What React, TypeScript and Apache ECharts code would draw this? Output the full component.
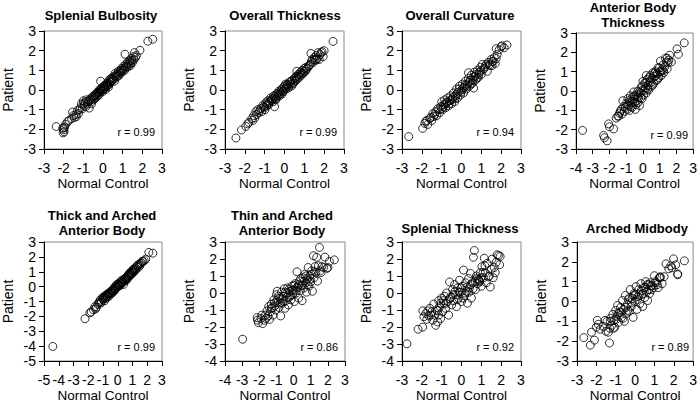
import React, { useEffect, useRef } from "react";
import * as echarts from "echarts";

const FONT = "'Liberation Sans', Arial, Helvetica, sans-serif";

// ---- Panel titles and correlation labels ----
const titles: string[] = [
  "Splenial Bulbosity",
  "Overall Thickness",
  "Overall Curvature",
  "Anterior Body\nThickness",
  "Thick and Arched\nAnterior Body",
  "Thin and Arched\nAnterior Body",
  "Splenial Thickness",
  "Arched Midbody",
];
const rLabels = ["r = 0.99", "r = 0.99", "r = 0.94", "r = 0.99", "r = 0.99", "r = 0.86", "r = 0.92", "r = 0.89"];
const xMins = [-3, -3, -3, -4, -5, -4, -3, -3];
const xMaxs = [3, 3, 3, 3, 3, 3, 3, 3];
const yMins = [-3, -3, -3, -3, -5, -4, -4, -3];
const yMaxs = [3, 3, 3, 3, 3, 3, 3, 3];

// ---- Data (Normal Control x, Patient y) ----
const splenialBulbosity = [
  [-2.38,-1.86],[-2.05,-1.95],[-2.0,-2.02],[-1.98,-2.12],[-2.03,-2.18],[-1.95,-1.88],[-2.0,-1.92],
  [-1.72,-1.55],[-1.6,-1.45],[-1.55,-1.12],[-1.5,-1.3],[-1.45,-1.4],[-1.38,-1.25],[-1.3,-1.05],[-1.25,-1.2],
  [-1.15,-0.9],[-1.1,-0.7],[-1.05,-0.95],[-1.0,-0.55],[-0.95,-0.8],[-0.9,-0.62],[-0.85,-0.5],[-0.8,-0.72],
  [-0.7,-0.92],[-0.72,-0.55],[-0.65,-0.45],[-0.6,-0.6],[-0.55,-0.35],[-0.5,-0.5],[-0.45,-0.3],[-0.42,-0.45],
  [-0.38,-0.2],[-0.35,-0.38],[-0.3,-0.15],[-0.28,-0.3],[-0.25,-0.1],[-0.2,-0.25],[-0.18,0.02],[-0.15,-0.12],
  [-0.12,0.45],[-0.1,0.05],[-0.08,-0.05],[-0.05,0.1],[0.0,0.0],[0.02,0.15],[0.05,0.05],[0.08,0.2],[0.1,0.1],
  [0.15,0.3],[0.18,0.18],[0.22,0.35],[0.25,0.25],[0.3,0.5],[0.35,0.4],[0.38,0.55],[0.42,0.6],[0.45,0.45],
  [0.5,0.65],[0.55,0.55],[0.6,0.7],[0.62,0.85],[0.68,0.65],[0.72,0.8],[0.78,0.95],[0.82,0.75],[0.88,1.0],
  [0.9,0.85],[0.95,1.1],[1.0,0.95],[1.05,1.2],[1.1,1.0],[1.12,1.82],[1.15,1.3],[1.2,1.15],[1.25,1.4],
  [1.3,1.2],[1.35,1.5],[1.4,1.35],[1.45,1.6],[1.5,1.4],[1.55,1.7],[1.6,1.9],[1.65,1.65],[1.7,1.75],
  [1.88,2.02],[2.28,2.48],[2.53,2.58],
  [-1.9,-1.75],[-1.8,-1.6],[-1.35,-1.35],[-1.2,-1.0],[-0.98,-0.7],[-0.88,-0.85],[-0.78,-0.6],[-0.62,-0.5],
  [-0.58,-0.7],[-0.48,-0.38],[-0.4,-0.3],[-0.32,-0.22],[-0.22,-0.12],[-0.14,-0.02],[-0.02,-0.08],[0.04,0.22],
  [0.12,0.02],[0.2,0.25],[0.28,0.15],[0.33,0.3],[0.4,0.42],[0.48,0.55],[0.58,0.45],[0.65,0.75],[0.75,0.7],
  [0.85,0.9],[0.92,0.95],[1.02,1.05],[1.08,1.1],[1.18,1.2],[1.28,1.32],[1.38,1.45],[1.48,1.5],[1.58,1.55],[1.4,1.25],
];
const overallThickness = [
  [-2.45,-2.44],[-2.17,-2.03],[-1.85,-1.72],[-1.8,-1.65],[-1.65,-1.45],[-1.55,-1.3],[-1.5,-1.42],[-1.45,-1.1],
  [-1.4,-1.25],[-1.35,-1.0],[-1.3,-1.15],[-1.2,-0.95],[-1.15,-1.1],[-1.1,-0.8],[-1.0,-0.9],[-0.95,-0.65],
  [-0.9,-0.8],[-0.85,-0.55],[-0.8,-0.75],[-0.75,-0.6],[-0.7,-0.4],[-0.65,-0.55],[-0.6,-0.45],[-0.5,-0.85],
  [-0.55,-0.3],[-0.5,-0.4],[-0.45,-0.5],[-0.4,-0.2],[-0.38,-0.35],[-0.3,-0.25],[-0.28,-0.05],[-0.25,-0.3],
  [-0.2,-0.1],[-0.15,0.0],[-0.12,-0.2],[-0.1,0.1],[-0.05,-0.05],[0.0,0.2],[0.02,0.05],[0.05,0.3],[0.1,0.15],
  [0.15,0.25],[0.2,0.1],[0.25,0.4],[0.3,0.3],[0.35,0.2],[0.4,0.5],[0.45,0.35],[0.5,0.6],[0.55,0.45],
  [0.6,0.7],[0.62,0.95],[0.65,0.55],[0.7,0.8],[0.75,0.65],[0.8,0.9],[0.85,0.75],[0.9,1.0],[0.95,0.85],
  [1.0,1.1],[1.05,0.95],[1.1,1.05],[1.2,1.2],[1.3,1.3],[1.33,1.86],[1.4,1.55],[1.45,1.4],[1.5,1.65],
  [1.55,1.5],[1.6,1.75],[1.65,1.6],[1.7,1.9],[1.75,1.55],[1.8,1.8],[1.9,1.95],[1.95,1.7],[2.0,2.0],[2.45,2.47],
  [-1.95,-1.85],[-1.6,-1.55],[-1.25,-1.05],[-1.05,-0.85],[-0.98,-1.0],[-0.88,-0.7],[-0.78,-0.65],[-0.68,-0.5],
  [-0.58,-0.6],[-0.48,-0.3],[-0.42,-0.45],[-0.33,-0.15],[-0.22,-0.2],[-0.08,-0.1],[0.08,0.05],[0.12,0.28],
  [0.22,0.2],[0.32,0.45],[0.42,0.3],[0.52,0.5],[0.58,0.62],[0.68,0.7],[0.78,0.8],[0.88,0.85],[0.98,0.95],
  [1.08,1.15],[1.15,1.1],[1.25,1.25],[1.35,1.45],[1.5,1.55],[1.62,1.55],[1.85,1.9],
];
const overallCurvature = [
  [-2.66,-2.37],[-1.96,-1.95],[-1.85,-1.7],[-1.75,-1.55],[-1.7,-1.75],[-1.6,-1.45],[-1.5,-1.55],[-1.45,-1.2],
  [-1.4,-1.35],[-1.3,-1.1],[-1.25,-1.3],[-1.2,-0.95],[-1.1,-1.15],[-1.05,-0.85],[-1.0,-0.6],[-0.95,-1.0],
  [-0.9,-0.75],[-0.85,-0.5],[-0.8,-0.9],[-0.75,-0.65],[-0.7,-0.4],[-0.65,-0.8],[-0.6,-0.55],[-0.55,-0.3],
  [-0.5,-0.7],[-0.45,-0.45],[-0.4,-0.15],[-0.35,-0.6],[-0.3,-0.3],[-0.25,0.05],[-0.2,-0.4],[-0.15,-0.1],
  [-0.1,0.2],[-0.05,-0.25],[0.0,0.0],[0.05,0.3],[0.1,-0.15],[0.15,0.15],[0.2,0.45],[0.25,0.05],[0.3,0.3],
  [0.35,0.6],[0.35,0.88],[0.4,0.2],[0.45,0.5],[0.5,0.75],[0.55,0.35],[0.61,0.1],[0.6,0.65],[0.65,0.9],
  [0.7,0.5],[0.75,0.8],[0.8,1.0],[0.85,0.65],[0.9,0.9],[0.95,1.15],[1.0,0.8],[1.05,1.3],[1.1,1.05],
  [1.2,1.2],[1.3,0.95],[1.35,1.4],[1.45,1.25],[1.5,1.55],[1.54,1.24],[1.6,1.45],[1.65,1.65],[1.7,1.35],
  [1.75,2.1],[1.8,1.8],[1.9,2.05],[2.0,2.2],[2.04,2.25],[2.15,2.15],[2.29,2.29],
  [-1.8,-1.6],[-1.55,-1.4],[-1.35,-1.25],[-1.15,-1.0],[-1.0,-0.95],[-0.92,-0.85],[-0.82,-0.7],[-0.72,-0.6],
  [-0.62,-0.7],[-0.52,-0.5],[-0.42,-0.35],[-0.32,-0.45],[-0.22,-0.2],[-0.12,0.05],[-0.02,-0.1],[0.08,0.1],
  [0.18,0.25],[0.28,0.15],[0.38,0.4],[0.48,0.3],[0.58,0.5],[0.68,0.7],[0.78,0.6],[0.88,0.8],[0.98,1.0],
  [1.15,1.1],[1.25,1.3],[1.4,1.3],[1.55,1.45],[1.75,1.6],
];
const anteriorBodyThickness = [
  [-3.61,-2.04],[-2.35,-2.3],[-2.3,-2.42],[-2.14,-2.58],[-2.05,-1.7],[-2.0,-1.85],[-1.75,-1.96],[-1.6,-1.4],
  [-1.5,-1.3],[-1.4,-1.15],[-1.3,-0.95],[-1.25,-1.2],[-1.2,-0.5],[-1.15,-0.8],[-1.1,-1.05],[-1.0,-0.65],
  [-0.95,-0.95],[-0.9,-0.4],[-0.85,-0.75],[-0.8,-1.0],[-0.75,-0.25],[-0.7,-0.55],[-0.65,-0.85],[-0.6,-0.3],
  [-0.55,-0.05],[-0.5,-0.6],[-0.45,-0.95],[-0.4,-0.2],[-0.35,-0.5],[-0.3,0.0],[-0.25,-0.35],[-0.2,-0.75],
  [-0.15,-0.1],[-0.1,0.2],[-0.05,-0.4],[0.0,0.05],[0.05,-0.2],[0.1,0.4],[0.15,0.15],[0.2,-0.1],[0.25,0.6],
  [0.3,0.3],[0.35,0.05],[0.4,0.5],[0.45,0.8],[0.5,0.25],[0.55,0.65],[0.6,0.95],[0.65,0.4],[0.7,0.75],
  [0.75,1.0],[0.8,0.55],[0.85,0.9],[0.9,1.2],[0.95,0.7],[1.0,1.0],[1.05,1.55],[1.1,0.8],[1.15,1.1],
  [1.2,1.35],[1.25,0.95],[1.3,1.25],[1.35,1.7],[1.4,1.5],[1.45,1.15],[1.5,1.45],[1.6,1.85],[1.7,1.5],
  [2.04,2.18],[2.12,1.9],[2.47,2.49],[0.2,0.8],[-0.5,-0.25],[0.0,0.5],[-0.3,-0.6],
  [-1.45,-1.3],[-1.35,-1.05],[-1.05,-0.85],[-0.92,-0.7],[-0.82,-0.5],[-0.72,-0.8],[-0.62,-0.55],[-0.52,-0.4],
  [-0.42,-0.7],[-0.32,-0.3],[-0.22,-0.05],[-0.12,-0.35],[-0.02,0.25],[0.08,0.0],[0.18,0.45],[0.28,0.1],
  [0.38,0.7],[0.48,0.45],[0.58,0.3],[0.68,0.9],[0.78,0.8],[0.88,0.6],[0.98,1.2],[1.08,1.0],[1.22,1.05],
  [1.45,1.7],[1.55,1.6],
];
const thickArchedAnterior = [
  [-4.4,-4.02],[-2.22,-2.16],[-1.89,-1.76],[-1.8,-1.7],[-1.65,-1.55],[-1.55,-1.35],[-1.45,-1.4],[-1.35,-1.2],
  [-1.25,-1.05],[-1.2,-0.9],[-1.1,-1.0],[-1.05,-0.75],[-1.0,-0.85],[-0.95,-0.7],[-0.9,-0.95],[-0.85,-0.6],
  [-0.8,-0.8],[-0.75,-0.55],[-0.7,-0.7],[-0.65,-0.45],[-0.6,-0.65],[-0.55,-0.4],[-0.5,-0.5],[-0.45,-0.3],
  [-0.4,-0.45],[-0.35,-0.2],[-0.3,-0.35],[-0.25,-0.1],[-0.2,-0.25],[-0.15,0.05],[-0.1,-0.1],[-0.05,0.15],
  [0.0,0.0],[0.05,0.1],[0.1,0.25],[0.15,0.1],[0.2,0.35],[0.25,0.2],[0.3,0.45],[0.35,0.3],[0.4,0.15],
  [0.45,0.5],[0.5,0.4],[0.55,0.6],[0.6,0.45],[0.65,0.7],[0.7,0.6],[0.75,0.85],[0.8,0.7],[0.85,0.95],
  [0.9,0.8],[0.95,1.05],[1.0,0.9],[1.05,1.15],[1.1,1.0],[1.15,1.25],[1.2,1.1],[1.3,1.35],[1.4,1.3],
  [1.45,1.5],[1.5,1.4],[1.6,1.6],[1.71,1.69],[1.8,1.75],[1.9,1.85],[2.11,2.3],[2.38,2.25],
  [-1.5,-1.5],[-1.3,-1.1],[-1.15,-1.1],[-0.98,-0.8],[-0.88,-0.75],[-0.78,-0.65],[-0.68,-0.55],[-0.58,-0.5],
  [-0.48,-0.4],[-0.38,-0.3],[-0.28,-0.2],[-0.18,-0.15],[-0.08,0.0],[0.02,0.15],[0.12,0.05],[0.22,0.25],
  [0.32,0.3],[0.42,0.4],[0.52,0.55],[0.62,0.55],[0.72,0.75],[0.82,0.85],[0.92,0.9],[1.02,1.05],[1.12,1.15],
  [1.25,1.2],[1.35,1.45],[1.55,1.55],[1.65,1.7],
];
const thinArchedAnterior = [
  [-2.97,-2.72],[-2.12,-1.45],[-2.1,-1.6],[-2.05,-1.75],[-1.85,-1.3],[-1.8,-1.8],[-1.7,-1.6],[-1.6,-1.5],
  [-1.55,-1.05],[-1.5,-1.35],[-1.45,-0.8],[-1.4,-1.55],[-1.35,-1.1],[-1.3,-0.65],[-1.25,-0.9],[-1.2,-1.3],
  [-1.15,-0.4],[-1.1,-0.75],[-1.05,-1.0],[-1.0,-0.1],[-0.95,0.1],[-0.9,-0.55],[-0.85,-0.85],[-0.8,-0.3],
  [-0.75,-1.35],[-0.7,0.05],[-0.65,-0.6],[-0.6,-0.2],[-0.55,0.25],[-0.5,-0.9],[-0.45,-0.45],[-0.4,0.0],
  [-0.35,0.3],[-0.3,-0.7],[-0.25,-0.25],[-0.2,0.1],[-0.15,-0.4],[-0.1,0.4],[-0.05,-0.1],[0.0,0.2],
  [0.05,-0.5],[0.1,0.55],[0.15,0.0],[0.2,1.25],[0.25,0.3],[0.3,-0.3],[0.35,0.7],[0.4,0.15],[0.45,0.45],
  [0.5,-0.45],[0.55,0.9],[0.6,0.3],[0.65,1.1],[0.7,0.6],[0.75,0.05],[0.8,0.85],[0.85,1.5],[0.9,0.4],
  [0.95,1.0],[1.0,0.65],[1.05,1.3],[1.1,0.1],[1.16,2.19],[1.2,0.9],[1.25,1.55],[1.3,1.2],[1.4,0.7],
  [1.45,1.6],[1.51,2.68],[1.55,1.3],[1.6,1.2],[1.75,1.5],[1.83,2.11],[1.95,1.45],[2.09,1.86],[2.38,1.95],
  [-1.9,-1.5],[-1.65,-1.3],[-1.3,-0.9],[-1.12,-0.6],[-0.98,-0.45],[-0.88,-0.2],[-0.78,-0.6],[-0.68,-0.35],
  [-0.58,-0.5],[-0.48,0.05],[-0.38,-0.25],[-0.28,0.2],[-0.18,-0.15],[-0.08,0.15],[0.02,0.45],[0.12,0.15],
  [0.22,0.35],[0.32,0.5],[0.42,0.85],[0.52,0.45],[0.62,0.7],[0.72,1.0],[0.82,0.5],[0.92,0.75],[1.02,1.1],
  [1.22,1.25],[1.35,2.1],[1.65,1.55],[2.0,1.5],
];
const splenialThickness = [
  [-2.75,-2.99],[-2.19,-2.13],[-1.96,-2.01],[-1.95,-1.05],[-1.9,-1.4],[-1.8,-1.2],[-1.75,-1.55],[-1.65,-1.35],
  [-1.6,-0.9],[-1.5,-1.1],[-1.45,-1.6],[-1.4,-0.65],[-1.35,-1.3],[-1.3,-1.9],[-1.25,-1.0],[-1.2,-1.7],
  [-1.15,-0.45],[-1.1,-0.8],[-1.05,-1.5],[-1.0,-0.3],[-0.95,-1.1],[-0.9,-0.6],[-0.85,-0.2],[-0.8,-0.9],
  [-0.75,0.0],[-0.7,-0.5],[-0.65,-1.3],[-0.6,0.65],[-0.55,-0.25],[-0.5,-0.7],[-0.45,0.2],[-0.4,-0.45],
  [-0.35,0.5],[-0.3,-0.1],[-0.25,-0.8],[-0.2,0.3],[-0.15,-0.3],[-0.1,0.75],[-0.05,0.05],[0.0,-0.5],
  [0.05,0.4],[0.1,1.35],[0.15,-0.15],[0.2,0.6],[0.25,0.1],[0.3,-0.6],[0.35,0.85],[0.4,0.3],[0.45,1.15],
  [0.5,-0.3],[0.55,0.6],[0.6,2.1],[0.65,2.5],[0.7,0.2],[0.75,1.0],[0.8,0.55],[0.85,0.8],[0.9,0.7],
  [0.95,1.2],[1.0,0.4],[1.03,1.55],[1.1,0.9],[1.15,2.05],[1.2,1.2],[1.25,0.6],[1.3,1.75],[1.4,1.0],
  [1.45,0.35],[1.5,1.4],[1.54,1.99],[1.6,0.9],[1.7,1.2],[1.8,2.25],[1.87,2.2],[1.92,1.66],[1.95,2.15],
  [-1.7,-1.05],[-1.55,-1.3],[-1.2,-1.05],[-1.15,-1.3],[-1.05,-0.6],[-0.92,-0.45],[-0.78,-0.6],[-0.6,-0.35],
  [-0.42,-0.1],[-0.32,0.1],[-0.22,-0.4],[-0.12,0.05],[-0.02,0.3],[0.08,-0.3],[0.18,0.0],[0.28,0.35],
  [0.38,0.05],[0.48,0.5],[0.58,0.25],[0.68,0.7],[0.78,0.85],[0.88,0.75],[0.92,0.65],[0.98,0.9],[1.08,1.2],
  [1.18,1.6],[1.35,0.95],[1.65,1.5],[1.75,1.8],
];
const archedMidbody = [
  [-2.65,-1.82],[-2.31,-2.2],[-2.25,-1.55],[-2.1,-1.95],[-2.0,-1.3],[-1.95,-0.95],[-1.8,-1.4],[-1.65,-1.25],
  [-1.5,-1.5],[-1.45,-1.0],[-1.32,-2.09],[-1.3,-1.35],[-1.25,-0.85],[-1.2,-1.2],[-1.15,-0.65],[-1.1,-0.95],
  [-1.05,-1.3],[-1.0,-0.45],[-0.95,-0.75],[-0.9,-0.2],[-0.85,-1.05],[-0.8,-0.55],[-0.75,-0.3],[-0.7,-0.8],
  [-0.65,0.05],[-0.6,-0.4],[-0.55,-1.0],[-0.5,0.3],[-0.45,-0.6],[-0.4,-0.15],[-0.35,0.1],[-0.3,-0.5],
  [-0.25,0.6],[-0.2,-0.25],[-0.15,0.15],[-0.1,-0.8],[-0.05,0.4],[0.0,0.0],[0.05,0.75],[0.1,-0.4],
  [0.15,0.25],[0.2,0.6],[0.25,-0.1],[0.3,0.9],[0.35,0.35],[0.4,-0.25],[0.45,0.7],[0.5,0.2],[0.55,1.0],
  [0.6,0.5],[0.65,0.05],[0.7,0.85],[0.75,0.4],[0.8,0.95],[0.85,0.6],[0.9,0.8],[1.0,1.3],[1.1,0.95],
  [1.2,0.7],[1.25,1.2],[1.3,1.25],[1.4,0.9],[1.6,1.9],[1.74,1.65],[1.85,1.8],[1.99,2.15],[2.1,1.85],
  [2.21,1.39],[2.2,1.35],[2.55,2.05],
  [-1.9,-1.15],[-1.55,-0.95],[-1.38,-1.55],[-1.28,-1.0],[-1.12,-1.35],[-0.98,-0.9],[-0.88,-0.6],[-0.72,-0.55],
  [-0.62,-0.85],[-0.48,-0.3],[-0.38,-0.45],[-0.28,0.2],[-0.18,-0.05],[-0.08,0.3],[0.02,0.35],[0.12,0.1],
  [0.22,0.35],[0.32,0.55],[0.42,0.4],[0.52,0.7],[0.62,0.85],[0.72,0.6],[0.82,0.8],[0.95,0.7],[1.05,1.0],
  [1.15,0.85],[1.3,1.2],[1.5,1.25],[1.9,1.7],
];
const panelData = [
  splenialBulbosity, overallThickness, overallCurvature, anteriorBodyThickness,
  thickArchedAnterior, thinArchedAnterior, splenialThickness, archedMidbody,
];

// ---- Layout (pixel boxes of the plot areas) ----
const boxes = [
  { l: 43, t: 31, r: 162, b: 149 },
  { l: 225, t: 31, r: 344, b: 149 },
  { l: 402, t: 31, r: 521, b: 149 },
  { l: 576, t: 33, r: 695, b: 149 },
  { l: 43, t: 242, r: 162, b: 361 },
  { l: 225, t: 242, r: 345, b: 361 },
  { l: 402, t: 242, r: 521, b: 361 },
  { l: 577, t: 242, r: 696, b: 361 },
];
const titlePos = [
  { x: 101, y: 15, lh: 15 },
  { x: 285, y: 15, lh: 15 },
  { x: 460, y: 15, lh: 15 },
  { x: 633, y: 14.5, lh: 15 },
  { x: 102, y: 223, lh: 15.5 },
  { x: 282, y: 223, lh: 15.5 },
  { x: 460, y: 228.5, lh: 15 },
  { x: 637, y: 228.5, lh: 15 },
];
const rY = [132, 132, 132, 135, 347, 347, 347, 347];

export default function App() {
  const ref = useRef<HTMLDivElement>(null);
  useEffect(() => {
    if (!ref.current) return;
    const chart = echarts.init(ref.current, undefined, { renderer: "svg" });
    const grid: any[] = [];
    const xAxis: any[] = [];
    const yAxis: any[] = [];
    const series: any[] = [];
    const graphic: any[] = [];
    boxes.forEach((bx, i) => {
      grid.push({
        left: bx.l, top: bx.t, width: bx.r - bx.l, height: bx.b - bx.t,
        show: true, borderColor: "#8a8a8a", borderWidth: 1, backgroundColor: "transparent",
        containLabel: false,
      });
      const common = {
        gridIndex: i,
        type: "value",
        interval: 1,
        splitLine: { show: false },
        axisLine: { show: true, onZero: false, lineStyle: { color: "#000", width: 1 } },
        axisTick: { show: true, inside: false, length: 5, lineStyle: { color: "#000", width: 1 } },
        nameLocation: "middle",
      };
      xAxis.push({
        ...common,
        min: xMins[i], max: xMaxs[i],
        name: "Normal Control", nameGap: 27,
        nameTextStyle: { fontFamily: FONT, fontSize: 13.5, color: "#000" },
        axisLabel: { fontFamily: FONT, fontSize: 14, color: "#000", margin: 12, showMinLabel: true, showMaxLabel: true },
      });
      yAxis.push({
        ...common,
        min: yMins[i], max: yMaxs[i],
        name: "Patient", nameGap: 29,
        nameTextStyle: { fontFamily: FONT, fontSize: 14, color: "#000" },
        axisLabel: { fontFamily: FONT, fontSize: 14, color: "#000", margin: 8, showMinLabel: true, showMaxLabel: true },
      });
      series.push({
        type: "scatter",
        xAxisIndex: i, yAxisIndex: i,
        data: panelData[i],
        symbol: "circle",
        symbolSize: 8,
        itemStyle: { color: "rgba(255,255,255,0)", borderColor: "#000", borderWidth: 1 },
        emphasis: { disabled: true },
        silent: true,
      });
      graphic.push({
        type: "text",
        x: titlePos[i].x,
        y: titlePos[i].y,
        style: {
          text: titles[i], fill: "#000",
          fontFamily: FONT, fontSize: 13, fontWeight: "bold",
          lineHeight: titlePos[i].lh,
          textAlign: "center", textVerticalAlign: "middle",
        },
      });
      graphic.push({
        type: "text",
        x: bx.r - 7,
        y: rY[i],
        style: {
          text: rLabels[i], fill: "#000",
          fontFamily: FONT, fontSize: 11,
          textAlign: "right", textVerticalAlign: "middle",
        },
      });
    });
    chart.setOption({
      animation: false,
      backgroundColor: "#fff",
      grid, xAxis, yAxis, series, graphic,
    });
    return () => chart.dispose();
  }, []);
  return (
    <div
      ref={ref}
      style={{ position: "absolute", left: 0, top: 0, width: 700, height: 408 }}
    />
  );
}
